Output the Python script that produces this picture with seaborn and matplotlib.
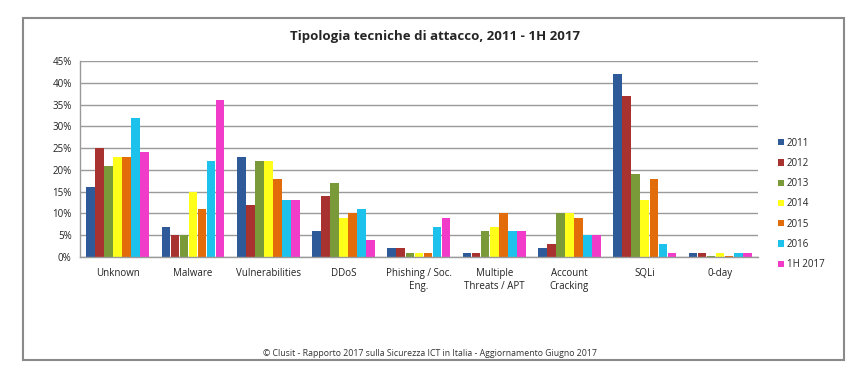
import matplotlib
matplotlib.use("Agg")
import matplotlib.pyplot as plt
import numpy as np
import pandas as pd
import seaborn as sns
from matplotlib.patches import Rectangle
from matplotlib.ticker import FuncFormatter

categories = ["Unknown", "Malware", "Vulnerabilities", "DDoS", "Phishing / Soc.\nEng.",
              "Multiple\nThreats / APT", "Account\nCracking", "SQLi", "0-day"]
years = ["2011", "2012", "2013", "2014", "2015", "2016", "1H 2017"]

v2011 = [16, 7, 23, 6, 2, 1, 2, 42, 1]
v2012 = [25, 5, 12, 14, 2, 1, 3, 37, 1]
v2013 = [21, 5, 22, 17, 1, 6, 10, 19, 0.3]
v2014 = [23, 15, 22, 9, 1, 7, 10, 13, 1]
v2015 = [23, 11, 18, 10, 1, 10, 9, 18, 0.3]
v2016 = [32, 22, 13, 11, 7, 6, 5, 3, 1]
v2017 = [24, 36, 13, 4, 9, 6, 5, 1, 1]

colors = ["#2F5A9A", "#A8322F", "#7A9A3A", "#FFFF1A", "#E36C0A", "#1CC2EC", "#F03CC8"]

series = [v2011, v2012, v2013, v2014, v2015, v2016, v2017]
rows = []
for y, vals in zip(years, series):
    for c, v in zip(categories, vals):
        rows.append({"cat": c, "year": y, "pct": v / 100})
df = pd.DataFrame(rows)

sns.set_style("white")
plt.rcParams["font.family"] = ["Open Sans", "DejaVu Sans"]

fig = plt.figure(figsize=(8.67, 3.88), dpi=100)
ax = fig.add_axes([0.0923, 0.3376, 0.7817, 0.5052])

sns.barplot(data=df, x="cat", y="pct", hue="year", order=categories, hue_order=years,
            palette=colors, width=0.84, gap=0.04, ax=ax, saturation=1, legend=True,
            edgecolor="none")

ax.set_ylim(0, 0.45)
ax.set_yticks(np.arange(0, 0.46, 0.05))
ax.yaxis.set_major_formatter(FuncFormatter(lambda v, _: f"{v * 100:.0f}%"))
ax.yaxis.grid(True, color="#9a9a9a", lw=1)
ax.set_axisbelow(True)
ax.set_xlabel("")
ax.set_ylabel("")
ax.tick_params(axis="both", labelsize=7, length=0, colors="#222222")
ax.tick_params(axis="x", pad=8)
ax.tick_params(axis="y", pad=6)
for s in ["top", "right"]:
    ax.spines[s].set_visible(False)
for s in ["left", "bottom"]:
    ax.spines[s].set_color("#9a9a9a")
    ax.spines[s].set_linewidth(1)

handles, labels = ax.get_legend_handles_labels()
ax.get_legend().remove()
fig.legend(handles, labels, loc="upper left", bbox_to_anchor=(0.893, 0.655),
           frameon=False, fontsize=7, handlelength=0.6, handleheight=0.6,
           handletextpad=0.3, labelspacing=0.95, borderaxespad=0)

fig.text(0.502, 0.905, "Tipologia tecniche di attacco, 2011 - 1H 2017",
         ha="center", va="center", fontsize=9.5, fontweight="bold")
fig.text(0.496, 0.088, "© Clusit - Rapporto 2017 sulla Sicurezza ICT in Italia - Aggiornamento Giugno 2017",
         ha="center", va="center", fontsize=6.3, color="#333333")

fig.patches.append(Rectangle((0.0265, 0.0722), 0.947, 0.881, transform=fig.transFigure,
                             fill=False, edgecolor="#8a8a8a", lw=1.5))

fig.savefig("out.png", dpi=100)
